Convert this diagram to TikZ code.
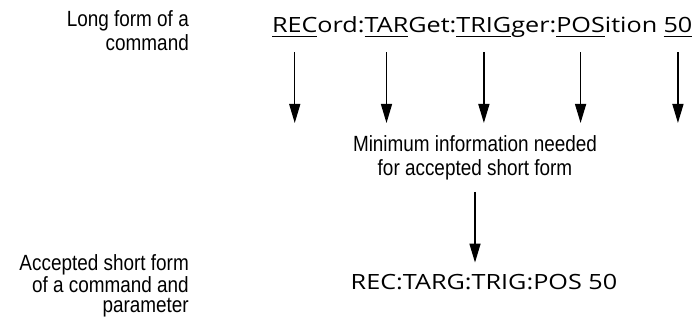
\documentclass[tikz,border=0pt]{standalone}
\usepackage{fontspec}
\setmainfont{Liberation Sans}
\newfontfamily\cmdfont[FakeStretch=1.2]{Open Sans}
\newfontfamily\lblfont[FakeStretch=0.86]{Liberation Sans}
\usetikzlibrary{arrows.meta}
\newcommand\ulpart[1]{\setbox0\hbox{#1}\rlap{\rule[-4.5pt]{\wd0}{1.8pt}}\box0}
\begin{document}
\begin{tikzpicture}[x=1pt,y=-1pt,
  lbl/.style={font=\lblfont\fontsize{22}{24}\selectfont, align=right, inner sep=0pt, anchor=base east},
  midlbl/.style={font=\lblfont\fontsize{22}{24}\selectfont, align=center, inner sep=0pt, anchor=base},
  seg/.style={font=\cmdfont\fontsize{21}{26}\selectfont, inner sep=0pt, outer sep=0pt, anchor=base west},
  short/.style={font=\cmdfont\fontsize{21}{26}\selectfont, inner sep=0pt, anchor=base},
  arr/.style={line width=1.4pt, -{Triangle[length=19pt,width=11pt]}}]
\useasboundingbox (0,0) rectangle (693,326);

\node[lbl] (longlbl) at (189,51) {Long form of a\\command};
\node[lbl, font=\lblfont\fontsize{22}{20}\selectfont] (shortlbl) at (189,312) {Accepted short form\\of a command and\\parameter};

\node[seg] (s1) at (272,33) {\ulpart{REC}};
\node[seg] (s2) at (s1.base east) {ord:};
\node[seg] (s3) at (s2.base east) {\ulpart{TAR}};
\node[seg] (s4) at (s3.base east) {Get:};
\node[seg] (s5) at (s4.base east) {\ulpart{TRIG}};
\node[seg] (s6) at (s5.base east) {ger:};
\node[seg] (s7) at (s6.base east) {\ulpart{POS}};
\node[seg] (s8) at (s7.base east) {ition\kern0.3em};
\node[seg] (s9) at (s8.base east) {\ulpart{50}};

\foreach \i in {1,3,5,7,9} {
  \coordinate (t\i) at (s\i.south |- 0,123);
  \draw[arr, shorten <=15pt] (s\i.south) -- (t\i);
}

\node[midlbl] (min) at (475,175) {Minimum information needed\\for accepted short form};
\node[short] (res) at (484,289) {REC:TARG:TRIG:POS 50};
\draw[arr, shorten <=12pt, shorten >=11pt] (min.south) -- (min.south |- res.north);
\end{tikzpicture}
\end{document}
